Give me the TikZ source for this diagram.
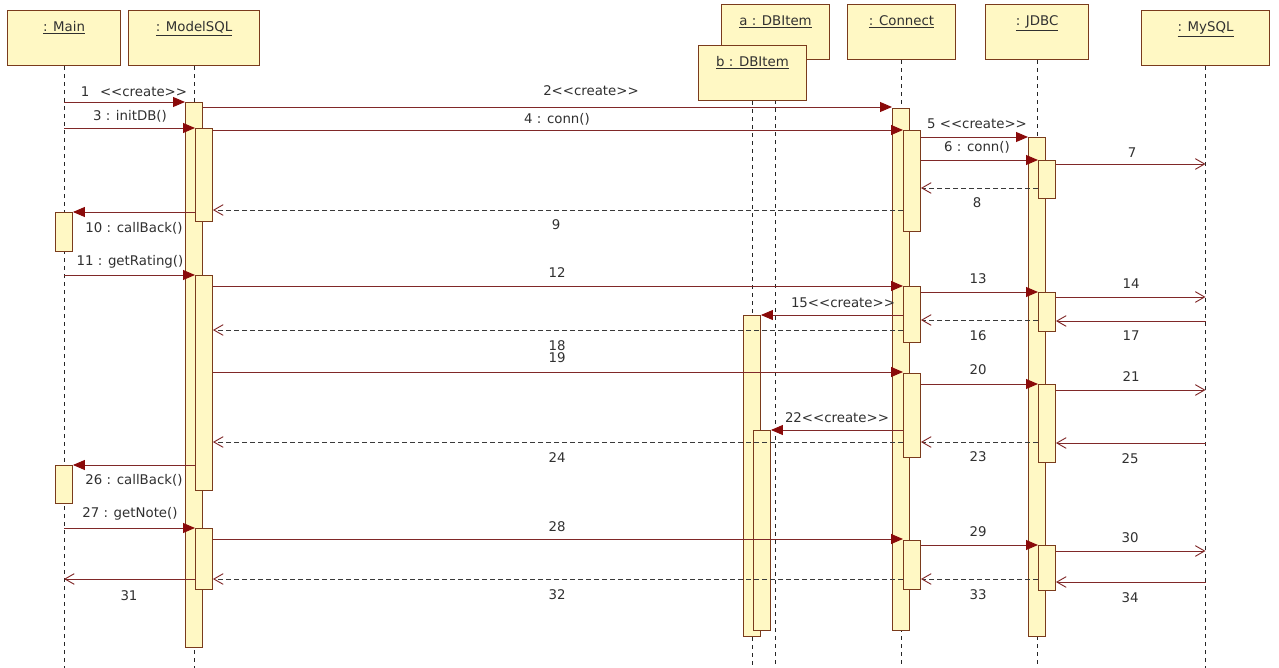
\documentclass[tikz,border=0pt]{standalone}
\usepackage{fontspec}
\setmainfont{DejaVu Sans}
\usepackage{xcolor}
\definecolor{umlfill}{HTML}{FFF8C4}
\definecolor{umlline}{HTML}{7A3B1C}
\definecolor{umlmsg}{HTML}{802828}
\definecolor{umltip}{HTML}{8A0A0A}
\definecolor{umlret}{HTML}{3A3A3A}
\definecolor{umltxt}{HTML}{303030}
\usetikzlibrary{arrows.meta,backgrounds}
\newcommand{\crt}{<\kern0pt<create>\kern0pt>}

\begin{document}
\begin{tikzpicture}[x=0.75pt,y=-0.75pt,
  font=\fontsize{10}{12}\selectfont,text=umltxt,
  hdr/.style={draw=umlline,fill=umlfill,line width=0.8pt,inner sep=0pt,
    anchor=north west,text height=15.75pt,text depth=25.5pt,minimum width=#1*0.75pt},
  act/.style={draw=umlline,fill=umlfill,line width=0.7pt,inner sep=0pt,
    anchor=north west,minimum width=12.75pt,minimum height=#1*0.75pt},
  life/.style={draw=black!85,line width=0.7pt,dash pattern=on 3pt off 3pt},
  call/.style={draw=umlmsg,line width=0.7pt,-{Triangle[length=9pt,width=7.5pt,color=umltip]}},
  sig/.style={draw=umlmsg,line width=0.7pt,-{Straight Barb[length=7pt,width=8pt]}},
  ret/.style={draw=umlret,line width=0.7pt,dash pattern=on 3.5pt off 2.5pt,
    -{Straight Barb[length=7pt,width=8pt,color=umlmsg]}}]
\useasboundingbox (0,0) rectangle (1279,668);

% objects
\node[hdr=113] (main) at (7,10) {\underline{: Main}};
\node[hdr=131] (mdl) at (128,10) {\underline{: ModelSQL}};
\node[hdr=108] (dba) at (721,4) {\underline{a : DBItem}};
\node[hdr=108] (dbb) at (698,45) {\underline{b : DBItem}};
\node[hdr=108] (cnt) at (847,4) {\underline{: Connect}};
\node[hdr=103] (jdbc) at (985,4) {\underline{: JDBC}};
\node[hdr=128] (sql) at (1141,10) {\underline{: MySQL}};

\begin{pgfonlayer}{background}
\foreach \o in {main,mdl,dba,dbb,cnt,jdbc,sql}
  \draw[life] (\o.south) -- (\o.south |- 0,668);
\end{pgfonlayer}

% activations
\node[act=39] (ma1) at (55,212) {};
\node[act=38] (ma2) at (55,465) {};
\node[act=545] (ms1) at (185,102) {};
\node[act=93] (ms2) at (195,128) {};
\node[act=215] (ms3) at (195,275) {};
\node[act=61] (ms4) at (195,528) {};
\node[act=321] (db1) at (743,315) {};
\node[act=200] (db2) at (753,430) {};
\node[act=522] (cn1) at (892,108) {};
\node[act=101] (cn2) at (903,130) {};
\node[act=56] (cn3) at (903,286) {};
\node[act=84] (cn4) at (903,373) {};
\node[act=49] (cn5) at (903,540) {};
\node[act=499] (jd1) at (1028,137) {};
\node[act=38] (jd2) at (1038,160) {};
\node[act=39] (jd3) at (1038,292) {};
\node[act=78] (jd4) at (1038,384) {};
\node[act=45] (jd5) at (1038,545) {};

% messages
\draw[call] (main.south |- 0,102) -- (ms1.west |- 0,102);
\draw[call] (ms1.east |- 0,107) -- (cn1.west |- 0,107);
\draw[call] (main.south |- 0,128) -- (ms2.west |- 0,128);
\draw[call] (ms2.east |- 0,130) -- (cn2.west |- 0,130);
\draw[call] (cn2.east |- 0,137) -- (jd1.west |- 0,137);
\draw[call] (cn2.east |- 0,160) -- (jd2.west |- 0,160);
\draw[sig] (jd2.east |- 0,164) -- (sql.south |- 0,164);
\draw[ret] (jd2.west |- 0,188) -- (cn2.east |- 0,188);
\draw[ret] (cn2.west |- 0,210) -- (ms2.east |- 0,210);
\draw[call] (ms2.west |- 0,212) -- (ma1.east |- 0,212);
\draw[call] (main.south |- 0,275) -- (ms3.west |- 0,275);
\draw[call] (ms3.east |- 0,286) -- (cn3.west |- 0,286);
\draw[call] (cn3.east |- 0,292) -- (jd3.west |- 0,292);
\draw[sig] (jd3.east |- 0,297) -- (sql.south |- 0,297);
\draw[call] (cn3.west |- 0,315) -- (db1.east |- 0,315);
\draw[ret] (jd3.west |- 0,320) -- (cn3.east |- 0,320);
\draw[sig] (sql.south |- 0,321) -- (jd3.east |- 0,321);
\draw[ret] (cn3.west |- 0,330) -- (ms3.east |- 0,330);
\draw[call] (ms3.east |- 0,372) -- (cn4.west |- 0,372);
\draw[call] (cn4.east |- 0,384) -- (jd4.west |- 0,384);
\draw[sig] (jd4.east |- 0,390) -- (sql.south |- 0,390);
\draw[call] (cn4.west |- 0,430) -- (db2.east |- 0,430);
\draw[ret] (jd4.west |- 0,442) -- (cn4.east |- 0,442);
\draw[ret] (cn4.west |- 0,442) -- (ms3.east |- 0,442);
\draw[sig] (sql.south |- 0,443) -- (jd4.east |- 0,443);
\draw[call] (ms3.west |- 0,465) -- (ma2.east |- 0,465);
\draw[call] (main.south |- 0,528) -- (ms4.west |- 0,528);
\draw[call] (ms4.east |- 0,539) -- (cn5.west |- 0,539);
\draw[call] (cn5.east |- 0,545) -- (jd5.west |- 0,545);
\draw[sig] (jd5.east |- 0,551) -- (sql.south |- 0,551);
\draw[sig] (ms4.west |- 0,579) -- (main.south |- 0,579);
\draw[ret] (cn5.west |- 0,579) -- (ms4.east |- 0,579);
\draw[ret] (jd5.west |- 0,579) -- (cn5.east |- 0,579);
\draw[sig] (sql.south |- 0,582) -- (jd5.east |- 0,582);

% labels
\node (l1) at (134,92) {1\hspace{8pt}\crt};
\node (l2) at (591,91) {2\crt};
\node (l3) at (130,116) {3 : initDB()};
\node (l4) at (557,119) {4 : conn()};
\node (l5) at (977,124) {5 \crt};
\node (l6) at (977,147) {6 : conn()};
\node (l7) at (1132,153) {7};
\node (l8) at (977,203) {8};
\node (l9) at (556,225) {9};
\node (l10) at (134,228) {10 : callBack()};
\node (l11) at (130,262) {11 : getRating()};
\node (l12) at (557,273) {12};
\node (l13) at (978,279) {13};
\node (l14) at (1131,284) {14};
\node (l15) at (843,303) {15\crt};
\node (l16) at (978,336) {16};
\node (l17) at (1131,336) {17};
\node (l18) at (557,346) {18};
\node (l19) at (557,358) {19};
\node (l20) at (978,370) {20};
\node (l21) at (1131,377) {21};
\node (l22) at (837,418) {22\crt};
\node (l23) at (978,457) {23};
\node (l24) at (557,458) {24};
\node (l25) at (1130,459) {25};
\node (l26) at (134,480) {26 : callBack()};
\node (l27) at (130,514) {27 : getNote()};
\node (l28) at (557,527) {28};
\node (l29) at (978,532) {29};
\node (l30) at (1130,538) {30};
\node (l31) at (129,596) {31};
\node (l32) at (557,595) {32};
\node (l33) at (978,595) {33};
\node (l34) at (1130,598) {34};
\end{tikzpicture}
\end{document}
